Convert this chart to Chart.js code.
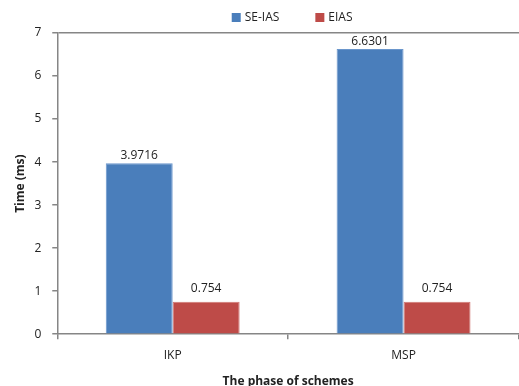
<!DOCTYPE html>
<html>
<head>
<meta charset="utf-8">
<script src="https://cdn.jsdelivr.net/npm/chart.js@4/dist/chart.umd.min.js"></script>
<style>
  html, body { margin: 0; padding: 0; background: #fff; }
  #wrap { width: 519px; height: 386px; }
</style>
</head>
<body>
<div id="wrap"><canvas id="myChart"></canvas></div>
<script>
// chart data
var categories = ['IKP', 'MSP'];
var seIas = [3.9716, 6.6301];
var eias = [0.754, 0.754];
var seriesNames = ['SE-IAS', 'EIAS'];

var axisGray = '#868686';
var textColor = '#222';
var fontName = "'Open Sans', 'Liberation Sans', sans-serif";

// writes the value above each bar
const barLabels = {
    id: 'barLabels',
    afterDatasetsDraw(chart) {
        const ctx = chart.ctx;
        ctx.save();
        ctx.font = '12px ' + fontName;
        ctx.fillStyle = textColor;
        ctx.textAlign = 'center';
        ctx.textBaseline = 'alphabetic';
        chart.data.datasets.forEach(function (ds, i) {
            chart.getDatasetMeta(i).data.forEach(function (bar, j) {
                var gap = ds.data[j] < 1 ? 10 : 4;
                ctx.fillText(String(ds.data[j]), bar.x, bar.y - gap);
            });
        });
        ctx.restore();
    }
};

// legend on top, centred over the plot area (like the excel one)
const topLegend = {
    id: 'topLegend',
    afterDraw(chart) {
        const ctx = chart.ctx;
        const area = chart.chartArea;
        ctx.save();
        ctx.font = '12px ' + fontName;
        ctx.textBaseline = 'middle';
        ctx.textAlign = 'left';
        var box = 9, boxGap = 4, itemGap = 36;
        var widths = chart.data.datasets.map(function (ds) {
            return box + boxGap + ctx.measureText(ds.label).width;
        });
        var total = widths.reduce(function (a, b) { return a + b; }, 0) + itemGap * (widths.length - 1);
        var x = (area.left + area.right) / 2 + 4 - total / 2;
        var y = 17.5;
        chart.data.datasets.forEach(function (ds, i) {
            ctx.fillStyle = ds.backgroundColor;
            ctx.fillRect(x, y - box / 2, box, box);
            ctx.fillStyle = textColor;
            ctx.fillText(ds.label, x + box + boxGap, y);
            x += widths[i] + itemGap;
        });
        ctx.restore();
    }
};

const ctx = document.getElementById('myChart').getContext('2d');
const myChart = new Chart(ctx, {
    type: 'bar',
    data: {
        labels: categories,
        datasets: [{
            label: seriesNames[0],
            data: seIas,
            backgroundColor: '#4A7EBB',
            borderColor: '#6A96CC',
            borderWidth: 1,
            categoryPercentage: 0.58,
            barPercentage: 1.0
        }, {
            label: seriesNames[1],
            data: eias,
            backgroundColor: '#BE4B48',
            borderColor: '#D07572',
            borderWidth: 1,
            categoryPercentage: 0.58,
            barPercentage: 1.0
        }]
    },
    options: {
        responsive: true,
        maintainAspectRatio: false,
        animation: false,
        layout: { padding: { top: 33, right: 0, left: 6, bottom: 0 } },
        plugins: {
            legend: { display: false },
            tooltip: { enabled: false }
        },
        scales: {
            x: {
                border: { color: axisGray, width: 1.5 },
                grid: {
                    offset: true,
                    drawOnChartArea: false,
                    tickLength: 5,
                    tickColor: axisGray,
                    lineWidth: 1.5
                },
                ticks: { color: textColor, font: { family: fontName, size: 12 }, padding: 9 },
                title: {
                    display: true,
                    text: 'The phase of schemes',
                    color: textColor,
                    font: { family: fontName, size: 12, weight: 'bold' },
                    padding: { top: 3, bottom: -3 }
                }
            },
            y: {
                min: 0,
                max: 7,
                border: { color: axisGray, width: 1.5 },
                grid: {
                    color: function (c) { return c.tick && c.tick.value === 7 ? axisGray : 'rgba(0,0,0,0)'; },
                    lineWidth: 1.5,
                    tickLength: 5,
                    tickColor: axisGray
                },
                ticks: { stepSize: 1, color: textColor, font: { family: fontName, size: 12 }, padding: 11 },
                title: {
                    display: true,
                    text: 'Time (ms)',
                    color: textColor,
                    font: { family: fontName, size: 12, weight: 'bold' },
                    padding: { top: 7, bottom: -4 }
                }
            }
        }
    },
    plugins: [barLabels, topLegend]
});
</script>
</body>
</html>
